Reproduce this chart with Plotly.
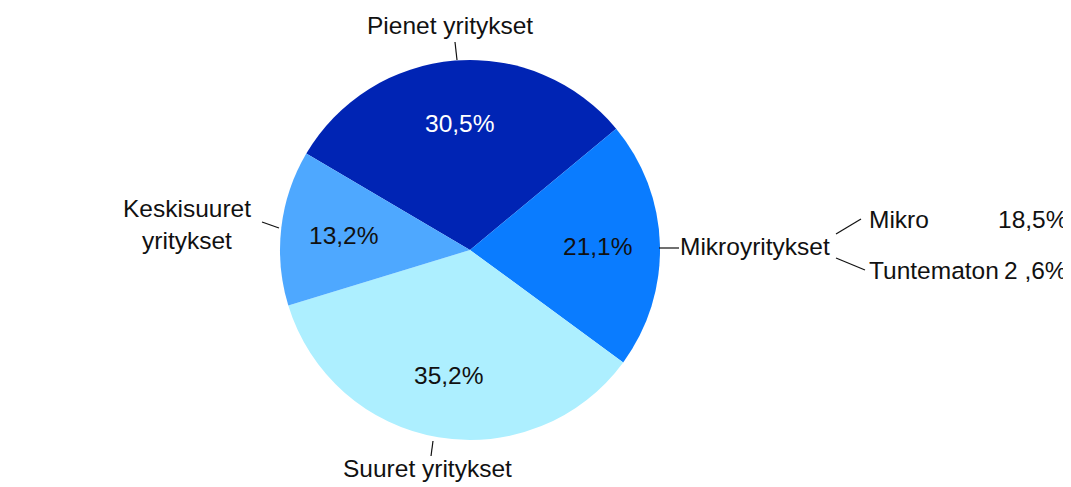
import math

import plotly.graph_objects as go

# Yritysten osuudet kokoluokittain (%)
LABELS = ["Pienet yritykset", "Mikroyritykset", "Suuret yritykset", "Keskisuuret yritykset"]
VALUES = [30.5, 21.1, 35.2, 13.2]
COLORS = ["#0024B4", "#0A7CFF", "#ADEFFF", "#4EA8FF"]
TEXT_COLORS = ["white", "#111111", "#111111", "#111111"]

# Mikroyritysten erittely
SUB_LABELS = ["Mikro", "Tuntematon"]
SUB_TEXT = ["18,5%", "2 ,6%"]

FONT = "Liberation Sans, Arial, sans-serif"
FS = 24.5
ROTATION = -59.5
# sivun oletusmarginaali (8 px) vähennetään kuvan koosta
W, H = 1063, 479

fig = go.Figure(
    go.Pie(
        labels=LABELS,
        values=VALUES,
        sort=False,
        direction="clockwise",
        rotation=ROTATION,
        marker=dict(colors=COLORS, line=dict(width=0)),
        textinfo="none",
        showlegend=False,
        hoverinfo="label+value",
    )
)


def px(x, y):
    # referenssikuvan pikselit -> paper-koordinaatit
    return (x - 280) / 380, (440 - y) / 380


def label(text, x, y, anchor="center"):
    ax, ay = px(x, y)
    fig.add_annotation(
        x=ax, y=ay, xref="paper", yref="paper", text=text, showarrow=False,
        xanchor=anchor, yanchor="middle", font=dict(size=FS, family=FONT, color="#111111"),
    )


def leader(x0, y0, x1, y1):
    a0, b0 = px(x0, y0)
    a1, b1 = px(x1, y1)
    fig.add_shape(type="line", xref="paper", yref="paper", x0=a0, y0=b0, x1=a1, y1=b1,
                  line=dict(color="#111111", width=1.2))


# prosenttiosuudet sektorien keskikulmaan
total = sum(VALUES)
start = ROTATION
for v, c in zip(VALUES, TEXT_COLORS):
    mid = math.radians(start + 360 * v / total / 2)
    start += 360 * v / total
    f = 0.67
    fig.add_annotation(
        x=0.5 + 0.5 * f * math.sin(mid), y=0.5 + 0.5 * f * math.cos(mid),
        xref="paper", yref="paper", showarrow=False,
        xanchor="center", yanchor="middle",
        text=f"{v:.1f}%".replace(".", ","),
        font=dict(size=FS, family=FONT, color=c),
    )

label(LABELS[0], 450, 26)
leader(455, 42, 457, 60)
label(LABELS[2], 427, 469)
leader(433, 441, 431, 456)
label("Keskisuuret<br>yritykset", 253, 224, "right")
leader(262, 222, 279, 228)
label(LABELS[1], 678, 246, "left")
leader(659, 248, 679, 248)
leader(836, 234, 861, 219)
leader(836, 258, 865, 270)
for name, txt, yy in zip(SUB_LABELS, SUB_TEXT, [219, 270]):
    label(name, 867, yy, "left")
    label(txt, 1069, yy, "right")

fig.update_layout(
    width=W,
    height=H,
    margin=dict(l=272, r=W - 652, t=52, b=H - 432),
    paper_bgcolor="white",
    plot_bgcolor="white",
    font=dict(family=FONT, color="#111111"),
)

fig.write_html("out.html")
